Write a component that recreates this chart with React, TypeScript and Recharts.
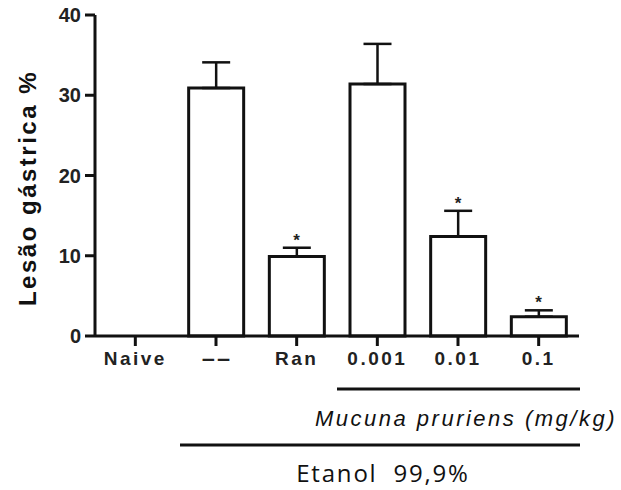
import React from 'react';
import { ComposedChart, Bar, XAxis, YAxis, ErrorBar, Line, Customized } from 'recharts';

const categories = ['Naive', '--', 'Ran', '0.001', '0.01', '0.1'];
const means = [0, 30.9, 9.9, 31.4, 12.4, 2.4];
const sems = [0, 3.2, 1.1, 5.0, 3.2, 0.8];
const significant = [false, false, true, false, true, true];
const yTicks = [0, 10, 20, 30, 40];

const data = categories.map((c, i) => ({
  name: c,
  mean: means[i],
  err: [0, sems[i]],
  star: significant[i] ? means[i] + sems[i] : null,
}));

const FONT = '"Liberation Sans", Arial, sans-serif';

const renderStar = (props: any) => {
  const { cx, cy, index, value } = props;
  if (value === null || value === undefined || cy == null || isNaN(cy)) {
    return <g key={`s-${index}`} />;
  }
  return (
    <text key={`s-${index}`} x={cx} y={cy - 2} textAnchor="middle" fontSize={17} fontWeight="bold" fill="#222" fontFamily={FONT}>
      *
    </text>
  );
};

const XTick = (props: any) => {
  const { x, y, payload } = props;
  const isDash = payload.value === '--';
  return (
    <g transform={`translate(${x},${y})`}>
      <text
        x={0}
        y={0}
        dy={15}
        textAnchor="middle"
        fontSize={19}
        fontWeight="bold"
        fill="#222"
        fontFamily={FONT}
        letterSpacing={isDash ? 0 : 2.5}
        transform={isDash ? 'scale(2.4,1)' : undefined}
      >
        {payload.value}
      </text>
    </g>
  );
};

const Annotations = () => (
  <g fontFamily={FONT} fill="#111">
    <text
      x={27}
      y={188}
      transform="rotate(-90, 27, 188)"
      textAnchor="middle"
      dominantBaseline="central"
      fontSize={24}
      fontWeight="bold"
      letterSpacing={2.5}
    >
      Lesão gástrica %
    </text>
    <line x1={337} x2={580} y1={389} y2={389} stroke="#111" strokeWidth={3} />
    <text x={466} y={426} textAnchor="middle" fontSize={22} fontStyle="italic" letterSpacing={2.5}>
      Mucuna pruriens (mg/kg)
    </text>
    <line x1={180} x2={580} y1={445} y2={445} stroke="#111" strokeWidth={3} />
    <text
      x={383}
      y={482}
      textAnchor="middle"
      fontSize={24}
      fontFamily='"Open Sans", sans-serif'
      letterSpacing={1.8}
      style={{ whiteSpace: 'pre' }}
    >
      {'Etanol  99,9%'}
    </text>
  </g>
);

export default function App() {
  return (
    <div style={{ position: 'absolute', left: 0, top: 0, width: 621, height: 490, background: '#fff' }}>
      <ComposedChart
        width={621}
        height={490}
        data={data}
        margin={{ top: 15, right: 42, bottom: 114, left: 0 }}
      >
        <XAxis
          dataKey="name"
          height={40}
          tickSize={10}
          tickMargin={4}
          interval={0}
          axisLine={{ stroke: '#111', strokeWidth: 3 }}
          tickLine={{ stroke: '#111', strokeWidth: 3 }}
          tick={<XTick />}
        />
        <YAxis
          domain={[0, 40]}
          ticks={yTicks}
          width={95}
          tickSize={10}
          tickMargin={4}
          interval={0}
          axisLine={{ stroke: '#111', strokeWidth: 3 }}
          tickLine={{ stroke: '#111', strokeWidth: 3 }}
          tick={{ fontSize: 20, fontWeight: 'bold', fill: '#222', fontFamily: FONT }}
        />
        <Bar dataKey="mean" fill="#fff" stroke="#111" strokeWidth={3} barSize={55} isAnimationActive={false}>
          <ErrorBar dataKey="err" direction="y" width={14} stroke="#111" strokeWidth={2.5} />
        </Bar>
        <Line
          dataKey="star"
          stroke="none"
          dot={renderStar}
          activeDot={false}
          legendType="none"
          isAnimationActive={false}
        />
        <Customized component={Annotations} />
      </ComposedChart>
    </div>
  );
}
